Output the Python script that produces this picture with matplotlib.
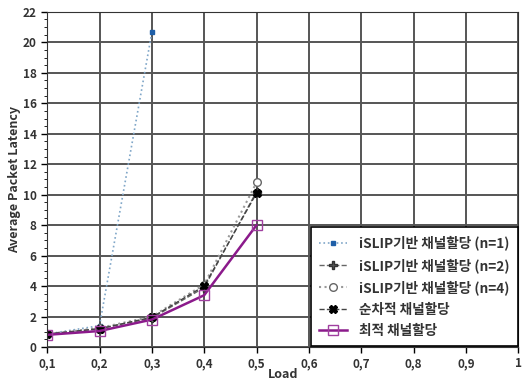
import matplotlib.pyplot as plt
from matplotlib.ticker import MultipleLocator, FuncFormatter

plt.rcParams['font.family'] = ['Noto Sans CJK KR', 'DejaVu Sans']

load = [0.1, 0.2, 0.3, 0.4, 0.5]
islip_n1_x = [0.1, 0.2, 0.3]
islip_n1 = [0.85, 1.4, 20.65]
islip_n2 = [0.85, 1.2, 1.9, 3.9, 10.2]
islip_n4 = [0.85, 1.25, 2.0, 4.1, 10.8]
seq = [0.85, 1.2, 1.95, 4.0, 10.1]
opt = [0.8, 1.05, 1.8, 3.4, 8.0]

labels = ['iSLIP기반 채널할당 (n=1)', 'iSLIP기반 채널할당 (n=2)',
          'iSLIP기반 채널할당 (n=4)', '순차적 채널할당', '최적 채널할당']

fig = plt.figure(figsize=(5.24, 3.83), dpi=100)
ax = fig.add_axes([0.09, 0.094, 0.899, 0.875])

ax.plot(islip_n1_x, islip_n1, color='#7fa6c8', ls=':', lw=1.2, marker='s', ms=3.5,
        mfc='#1f5fa8', mec='#1f5fa8', label=labels[0])
ax.plot(load, islip_n2, color='#666666', ls='--', lw=1, marker='P', ms=5.5,
        mfc='#555555', mec='#333333', label=labels[1])
ax.plot(load, islip_n4, color='#999999', ls=':', lw=1.5, marker='o', ms=5.5,
        mfc='white', mec='#666666', label=labels[2])
ax.plot(load, seq, color='#444444', ls='--', lw=1, marker='X', ms=6,
        mfc='black', mec='black', label=labels[3])
ax.plot(load, opt, color='#8b1a8b', ls='-', lw=1.8, marker='s', ms=6.5,
        mfc='none', mec='#a040a0', label=labels[4])

ax.set_xlim(0.1, 1.0)
ax.set_ylim(0, 22)
ax.xaxis.set_major_locator(MultipleLocator(0.1))
ax.yaxis.set_major_locator(MultipleLocator(2))
ax.yaxis.set_minor_locator(MultipleLocator(0.5))
ax.xaxis.set_major_formatter(FuncFormatter(
    lambda v, p: '1' if abs(v - 1) < 1e-6 else ('%.1f' % v).replace('.', ',')))
ax.grid(True, which='major', color='#555555', lw=1.4)
ax.tick_params(labelsize=8.5, length=4, width=1)
ax.tick_params(which='minor', length=2)
for t in ax.get_xticklabels() + ax.get_yticklabels():
    t.set_fontweight('bold')
    t.set_color('#333333')
for s in ax.spines.values():
    s.set_color('#333333')

ax.set_xlabel('Load', fontsize=9, fontweight='bold', labelpad=-2, color='#333333')
ax.set_ylabel('Average Packet Latency', fontsize=9, fontweight='bold', labelpad=1, color='#333333')

leg = ax.legend(loc='lower right', frameon=True, fancybox=False, framealpha=1,
                edgecolor='black', borderaxespad=0.05, handlelength=2.0,
                labelspacing=0.55, borderpad=0.6, handletextpad=0.9,
                prop={'weight': 'bold', 'size': 9.8})
leg.get_frame().set_linewidth(1.2)
for t in leg.get_texts():
    t.set_color('#333333')

fig.savefig('out.png', dpi=100)
